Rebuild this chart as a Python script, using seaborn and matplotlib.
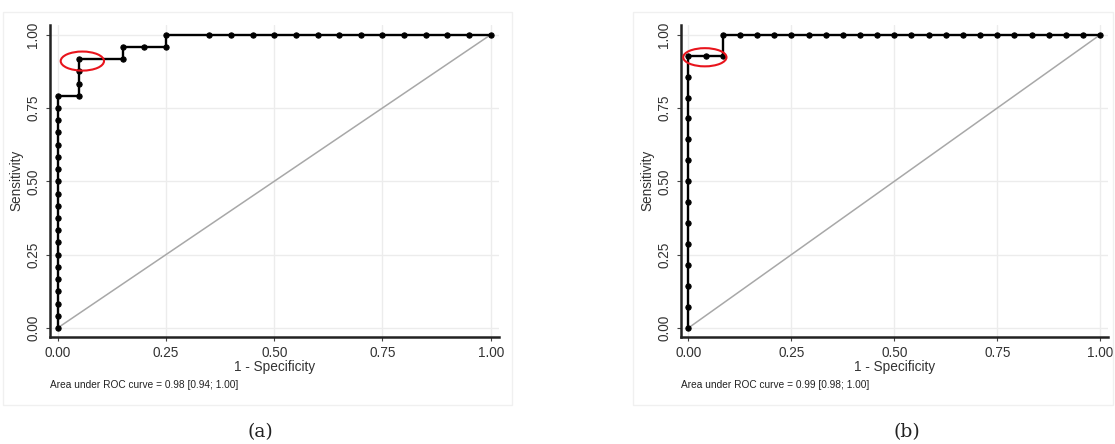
import pandas as pd
import matplotlib
matplotlib.use('Agg')
import matplotlib.pyplot as plt
import seaborn as sns
from matplotlib.patches import Ellipse, Rectangle

# ROC curve (a)
fpr_a = [0, 0, 0, 0, 0, 0, 0, 0, 0, 0, 0, 0, 0, 0, 0, 0, 0, 0, 0, 0,
         0.05, 0.05, 0.05, 0.05, 0.15, 0.15, 0.20, 0.25, 0.25,
         0.35, 0.40, 0.45, 0.50, 0.55, 0.60, 0.65, 0.70, 0.75, 0.80, 0.85, 0.90, 0.95, 1.00]
tpr_a = [0, 0.0417, 0.0833, 0.125, 0.1667, 0.2083, 0.25, 0.2917, 0.3333, 0.375,
         0.4167, 0.4583, 0.5, 0.5417, 0.5833, 0.625, 0.6667, 0.7083, 0.75, 0.7917,
         0.7917, 0.8333, 0.875, 0.9167, 0.9167, 0.9583, 0.9583, 0.9583, 1,
         1, 1, 1, 1, 1, 1, 1, 1, 1, 1, 1, 1, 1, 1]
auc_a = 'Area under ROC curve = 0.98 [0.94; 1.00]'

# ROC curve (b)
fpr_b = [0, 0, 0, 0, 0, 0, 0, 0, 0, 0, 0, 0, 0, 0,
         0.0417, 0.0833, 0.0833, 0.125, 0.1667, 0.2083, 0.25, 0.2917, 0.3333, 0.375,
         0.4167, 0.4583, 0.5, 0.5417, 0.5833, 0.625, 0.6667, 0.7083, 0.75, 0.7917,
         0.8333, 0.875, 0.9167, 0.9583, 1.0]
tpr_b = [0, 0.0714, 0.1429, 0.2143, 0.2857, 0.3571, 0.4286, 0.5, 0.5714, 0.6429,
         0.7143, 0.7857, 0.8571, 0.9286, 0.9286, 0.9286, 1, 1, 1, 1, 1, 1, 1, 1,
         1, 1, 1, 1, 1, 1, 1, 1, 1, 1, 1, 1, 1, 1, 1]
auc_b = 'Area under ROC curve = 0.99 [0.98; 1.00]'

ticks = [0, 0.25, 0.5, 0.75, 1.0]
tick_labels = ['0.00', '0.25', '0.50', '0.75', '1.00']

sns.set_style('white')
plt.rcParams['font.family'] = ['Liberation Sans', 'DejaVu Sans']

fig = plt.figure(figsize=(11.15, 4.44), dpi=100)

# graph region boxes
fig.patches.append(Rectangle((3 / 1115, 1 - 405 / 444), 509 / 1115, 393 / 444,
                             transform=fig.transFigure, fill=False, ec='#f0f0f0', lw=1))
fig.patches.append(Rectangle((633 / 1115, 1 - 405 / 444), 480 / 1115, 393 / 444,
                             transform=fig.transFigure, fill=False, ec='#f0f0f0', lw=1))

ax1 = fig.add_axes([0.0448, 0.2417, 0.4027, 0.702])
ax2 = fig.add_axes([0.6108, 0.2417, 0.383, 0.702])


def roc_panel(ax, fpr, tpr, note, ell_xy, ell_w, ell_h, caption, cap_x):
    df = pd.DataFrame({'fpr': fpr, 'tpr': tpr})
    ax.plot([0, 1], [0, 1], color='#a8a8a8', lw=1.1, zorder=2)
    sns.lineplot(data=df, x='fpr', y='tpr', sort=False, estimator=None,
                 color='black', lw=1.7, marker='o', markersize=3.8,
                 markeredgecolor='black', ax=ax, zorder=3)
    ax.add_patch(Ellipse(ell_xy, ell_w, ell_h, fill=False, ec='#e8141c', lw=1.5, zorder=4))
    ax.set_xlim(-0.0178, 1.019)
    ax.set_ylim(-0.0297, 1.033)
    ax.set_xticks(ticks)
    ax.set_xticklabels(tick_labels)
    ax.set_yticks(ticks)
    ax.set_yticklabels(tick_labels, rotation=90, va='center')
    ax.grid(True, color='#ececec', lw=1)
    ax.set_axisbelow(True)
    for s in ['top', 'right']:
        ax.spines[s].set_visible(False)
    for s in ['left', 'bottom']:
        ax.spines[s].set_color('#222222')
        ax.spines[s].set_linewidth(1.8)
    ax.tick_params(axis='both', which='both', length=3, width=0.8, color='#444444',
                   labelsize=9.8, labelcolor='#333333', pad=4, direction='out',
                   bottom=True, left=True)
    ax.set_xlabel('1 - Specificity', fontsize=9.8, color='#333333', labelpad=0)
    ax.set_ylabel('Sensitivity', fontsize=9.8, color='#333333', labelpad=2)
    ax.text(0, -0.155, note, transform=ax.transAxes, fontsize=7.3, color='#222222',
            ha='left', va='center')
    fig.text(cap_x, 1 - 432 / 444, caption, ha='center', va='center',
             fontsize=13.5, family='DejaVu Serif', color='#222222')


roc_panel(ax1, fpr_a, tpr_a, auc_a, (0.057, 0.910), 0.10, 0.065, '(a)', 260 / 1115)
roc_panel(ax2, fpr_b, tpr_b, auc_b, (0.040, 0.923), 0.105, 0.062, '(b)', 907 / 1115)

fig.savefig('out.png', dpi=100)
